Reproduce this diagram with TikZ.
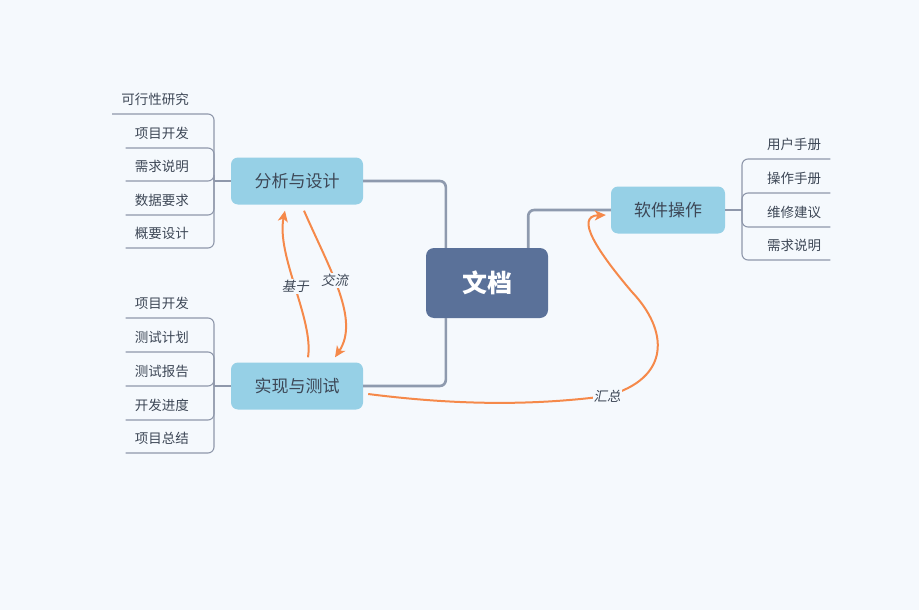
\documentclass[tikz,border=0pt]{standalone}
\usepackage{fontspec}
\setmainfont{Noto Sans CJK SC}
\newfontfamily\slantcjk[FakeSlant=0.2]{Noto Sans CJK SC}
\usepackage{tikz}
\usetikzlibrary{arrows, arrows.meta}

\definecolor{paper}{HTML}{F5F9FD}
\definecolor{rootblue}{HTML}{5A7199}
\definecolor{subblue}{HTML}{96D0E6}
\definecolor{trunkgrey}{HTML}{8E9AAE}
\definecolor{twiggrey}{HTML}{8F98AB}
\definecolor{relorange}{HTML}{F5894A}
\definecolor{inkgrey}{HTML}{3D4756}

\begin{document}
\begin{tikzpicture}[x=1pt, y=-1pt,
    root/.style={fill=rootblue, rounded corners=8, minimum width=122, minimum height=70, text=white, font=\fontsize{25}{28}\selectfont\bfseries},
    topic/.style={fill=subblue, rounded corners=7, minimum height=47, text=inkgrey, font=\fontsize{17}{20}\selectfont},
    leaf/.style={inner xsep=9, inner ysep=6, text height=10, text depth=3, text=inkgrey, font=\fontsize{13.5}{16}\selectfont},
    trunk/.style={draw=trunkgrey, line width=2.6, rounded corners=6},
    twig/.style={draw=twiggrey, line width=1.1, rounded corners=6},
    rel/.style={draw=relorange, line width=2, -{Stealth[length=11, width=10, inset=3]}},
    lbl/.style={fill=paper, inner sep=1, text=inkgrey, font=\fontsize{13.5}{16}\selectfont\slantcjk}]

\fill[paper] (0,0) rectangle (919,610);
\useasboundingbox (0,0) rectangle (919,610);

\node[root] (doc) at (487,283) {文档};
\node[topic, minimum width=132] (ana) at (297,181) {分析与设计};
\node[topic, minimum width=132] (impl) at (297,386) {实现与测试};
\node[topic, minimum width=114] (soft) at (668,210) {软件操作};

\draw[trunk] (ana.east) -| ([xshift=20]doc.north west);
\draw[trunk] ([xshift=20]doc.south west) |- (impl.east);
\draw[trunk] ([xshift=-20]doc.north east) |- (soft.west);

\coordinate (anaj) at (214,181);
\node[leaf, anchor=south east] (a1) at (198,114) {可行性研究};
\node[leaf, anchor=south east] (a2) at (198,148) {项目开发};
\node[leaf, anchor=south east] (a3) at (198,181) {需求说明};
\node[leaf, anchor=south east] (a4) at (198,215) {数据要求};
\node[leaf, anchor=south east] (a5) at (198,248) {概要设计};
\draw[twig] (ana.west) -- (anaj);
\draw[twig] (anaj) |- (a1.south west);
\draw[twig] (anaj) |- (a2.south west);
\draw[twig] (anaj) |- (a3.south west);
\draw[twig] (anaj) |- (a4.south west);
\draw[twig] (anaj) |- (a5.south west);

\coordinate (implj) at (214,386);
\node[leaf, anchor=south east] (b1) at (198,318) {项目开发};
\node[leaf, anchor=south east] (b2) at (198,352) {测试计划};
\node[leaf, anchor=south east] (b3) at (198,386) {测试报告};
\node[leaf, anchor=south east] (b4) at (198,420) {开发进度};
\node[leaf, anchor=south east] (b5) at (198,453) {项目总结};
\draw[twig] (impl.west) -- (implj);
\draw[twig] (implj) |- (b1.south west);
\draw[twig] (implj) |- (b2.south west);
\draw[twig] (implj) |- (b3.south west);
\draw[twig] (implj) |- (b4.south west);
\draw[twig] (implj) |- (b5.south west);

\coordinate (softj) at (742,210);
\node[leaf, anchor=south west] (c1) at (758,159) {用户手册};
\node[leaf, anchor=south west] (c2) at (758,193) {操作手册};
\node[leaf, anchor=south west] (c3) at (758,227) {维修建议};
\node[leaf, anchor=south west] (c4) at (758,260) {需求说明};
\draw[twig] (soft.east) -- (softj);
\draw[twig] (softj) |- (c1.south east);
\draw[twig] (softj) |- (c2.south east);
\draw[twig] (softj) |- (c3.south east);
\draw[twig] (softj) |- (c4.south east);

\draw[rel] ([xshift=11,yshift=5]impl.north) .. controls (314,320) and (276,255) .. ([xshift=-12,yshift=-6]ana.south) node[lbl, pos=0.5] (based) {基于};
\draw[rel] ([xshift=7,yshift=-6]ana.south) .. controls (330,270) and (360,320) .. ([xshift=38,yshift=5]impl.north) node[lbl, pos=0.42] (talk) {交流};
\draw[rel] ([xshift=5,yshift=-8]impl.east) .. controls (470,407) and (545,404) .. (607,396) node[lbl] (sum) {汇总}
    .. controls (672,378) and (668,330) .. (632,292) .. controls (598,252) and (574,216) .. ([xshift=-5,yshift=-5]soft.west);

\end{tikzpicture}
\end{document}
